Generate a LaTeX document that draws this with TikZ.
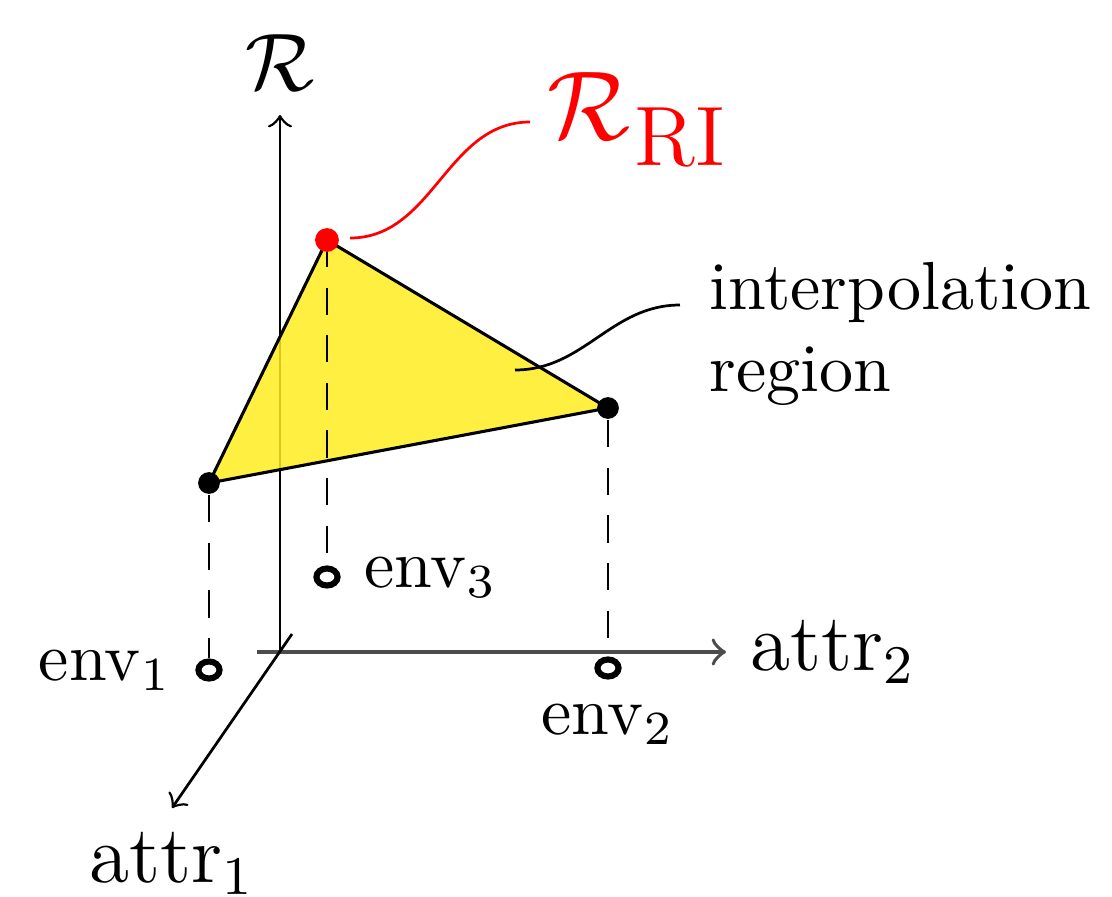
\documentclass[tikz,border=0pt]{standalone}
\usepackage{amsmath}
\definecolor{triyellow}{RGB}{255,236,30}
\tikzset{
  dotb/.style={circle,fill=black,inner sep=0pt,minimum size=3.2pt},
  dotr/.style={circle,fill=red,inner sep=0pt,minimum size=3.5pt},
  opencirc/.style={ellipse,draw=black,line width=0.9pt,inner sep=0pt,minimum width=3.1pt,minimum height=2.5pt},
  dashline/.style={dash pattern=on 4pt off 3pt},
  axisline/.style={->,line width=0.4pt},
  lbl/.style={inner sep=0.3333em}
}
\usetikzlibrary{shapes.geometric}
\begin{document}
\begin{tikzpicture}[x=0.147pt,y=-0.147pt]
\useasboundingbox (0,0) rectangle (1112,897);
% axes
\coordinate (O) at (280,652);
\coordinate (zTip) at (280,115);
\coordinate (yStart) at (257,652);
\coordinate (yTip) at (726,652);
\coordinate (xStart) at (292,634);
\coordinate (xTip) at (172,808);
\draw[axisline] (O) -- (zTip);
\draw[axisline,draw=black!70,line width=0.55pt] (yStart) -- (yTip);
\draw[axisline] (xStart) -- (xTip);
\node[lbl,above] (zl) at (zTip) {\large $\mathcal{R}$};
\node[lbl,right] (yl) at (yTip) {\large attr$_2$};
\node[lbl,below] (xl) at (xTip) {\large attr$_1$};
% triangle
\coordinate (c1) at (209,483);
\coordinate (c2) at (608,408);
\coordinate (c3) at (327,240);
\fill[triyellow,fill opacity=0.85] (c1) -- (c2) -- (c3) -- cycle;
\draw[line width=0.45pt] (c1) -- (c2) -- (c3) -- cycle;
% points
\node[dotb] (p1) at (c1) {};
\node[dotb] (p2) at (c2) {};
\node[opencirc] (e1) at (209,670) {};
\node[opencirc] (e2) at (608,668) {};
\node[opencirc] (e3) at (327,577) {};
\draw[dashline] (p1) -- (e1);
\draw[dashline] (p2) -- (e2);
\draw[dashline] (c3) -- (e3);
\node[dotr] (p3) at (c3) {};
\node[lbl,left] (e1l) at (e1.west) {env$_1$};
\node[lbl,below] (e2l) at (e2.south) {env$_2$};
\node[lbl,right] (e3l) at (e3.east) {env$_3$};
% red label
\node[red,anchor=base west,inner sep=0pt] (ri) at (546,139)
  {{\fontsize{14.6}{17}\selectfont$\mathcal{R}$}\kern0.6pt\raisebox{-3.9pt}{\fontsize{12.4}{15}\selectfont RI}};
\coordinate (rs) at (350,238);
\coordinate (re) at (530,122);
\draw[red] (rs) to[out=0,in=180] (re);
% interpolation region label
\node[anchor=north west,inner sep=0pt,align=left] (irl) at (708,261) {interpolation\\region};
\coordinate (is) at (515,370);
\coordinate (ie) at (680,305);
\draw (is) to[out=0,in=180] (ie);
\end{tikzpicture}
\end{document}
